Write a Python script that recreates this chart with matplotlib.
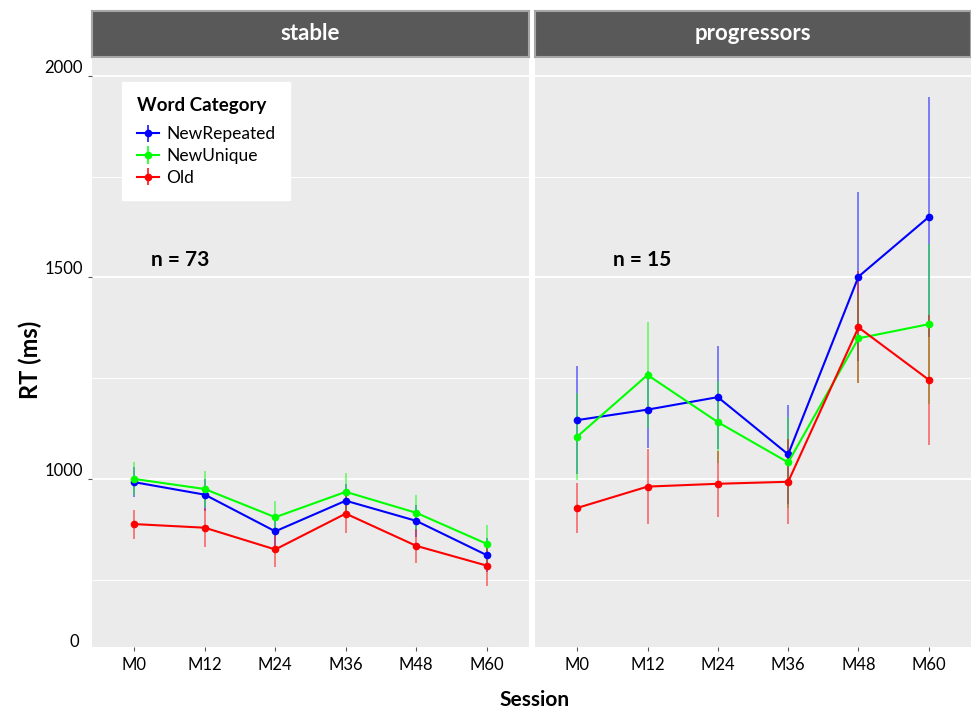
import matplotlib
matplotlib.use("Agg")
import matplotlib.pyplot as plt
import numpy as np

plt.rcParams['font.family'] = ['Lato', 'DejaVu Sans']

sessions = ["M0", "M12", "M24", "M36", "M48", "M60"]
groups = ["stable", "progressors"]
group_n = ["n = 73", "n = 15"]
categories = ["NewRepeated", "NewUnique", "Old"]
colors = {"NewRepeated": "#0000FF", "NewUnique": "#00FF00", "Old": "#FF0000"}

# stable group means / error half-widths
stable_newrepeated = [992, 961, 870, 946, 896, 811]
stable_newrepeated_err = [38, 40, 38, 42, 40, 42]
stable_newunique = [1000, 975, 905, 968, 916, 839]
stable_newunique_err = [41, 45, 40, 47, 43, 46]
stable_old = [888, 879, 825, 914, 834, 785]
stable_old_err = [36, 49, 43, 49, 42, 50]

# progressors group means / error half-widths
prog_newrepeated = [1146, 1172, 1203, 1061, 1502, 1650]
prog_newrepeated_err = [134, 96, 128, 123, 209, 297]
prog_newunique = [1105, 1258, 1141, 1041, 1349, 1384]
prog_newunique_err = [108, 131, 102, 112, 110, 198]
prog_old = [928, 981, 988, 993, 1376, 1246]
prog_old_err = [61, 93, 82, 105, 139, 162]

data = {
    "stable": {"NewRepeated": (stable_newrepeated, stable_newrepeated_err),
               "NewUnique": (stable_newunique, stable_newunique_err),
               "Old": (stable_old, stable_old_err)},
    "progressors": {"NewRepeated": (prog_newrepeated, prog_newrepeated_err),
                    "NewUnique": (prog_newunique, prog_newunique_err),
                    "Old": (prog_old, prog_old_err)},
}

W, H = 971, 712
fig = plt.figure(figsize=(W / 100, H / 100), dpi=100)

panel_px = [(92, 529), (535, 971)]
top_px, bot_px = 57, 647
strip_top = 11
ylo, yhi = 583, 2047

x = np.arange(len(sessions))
axes = []
for gi, (g, (x0, x1)) in enumerate(zip(groups, panel_px)):
    ax = fig.add_axes([x0 / W, 1 - bot_px / H, (x1 - x0) / W, (bot_px - top_px) / H])
    ax.set_facecolor("#EBEBEB")
    for s in ax.spines.values():
        s.set_visible(False)
    ax.set_ylim(ylo, yhi)
    ax.set_xlim(-0.6, len(sessions) - 0.4)
    ax.set_yticks([1000, 1500, 2000])
    ax.set_yticks([750, 1250, 1750], minor=True)
    ax.grid(True, which="major", axis="y", color="white", lw=1.3)
    ax.grid(True, which="minor", axis="y", color="white", lw=0.7)
    ax.set_axisbelow(True)
    ax.set_xticks(x)
    ax.set_xticklabels(sessions, fontsize=12)
    ax.tick_params(axis="x", length=3, color="#555555", pad=4)
    ax.tick_params(axis="y", which="both", length=3, color="#555555")
    if gi == 0:
        ax.set_yticklabels(["1000", "1500", "2000"], fontsize=12, va="bottom")
        ax.tick_params(axis="y", which="minor", length=0)
        ax.text(-0.03, 596, "0", transform=ax.get_yaxis_transform(), ha="right",
                va="center", fontsize=12)
    else:
        ax.set_yticklabels([])
        ax.tick_params(axis="y", which="both", length=0)

    handles = []
    for zi, cat in enumerate(categories):
        m, e = data[g][cat]
        c = colors[cat]
        ax.errorbar(x, m, yerr=e, fmt="none", ecolor=c, elinewidth=1.1,
                    alpha=0.6, zorder=2 + zi)
        ax.plot(x, m, color=c, lw=1.5, marker="o", ms=4.5, zorder=5 + zi)
        h = ax.errorbar([], [], yerr=[], color=c, marker="o", ms=4.5, lw=1.5,
                        elinewidth=1.1)
        handles.append(h)
    ax.text((180 - x0) / (x1 - x0) if gi == 0 else (642 - x0) / (x1 - x0),
            1 - (260 - top_px) / (bot_px - top_px), group_n[gi],
            transform=ax.transAxes, fontsize=15, fontweight="bold",
            ha="center", va="center")

    # strip
    sax = fig.add_axes([x0 / W, 1 - top_px / H, (x1 - x0) / W, (top_px - strip_top) / H])
    sax.set_facecolor("#595959")
    sax.set_xticks([])
    sax.set_yticks([])
    for s in sax.spines.values():
        s.set_color("#A6A6A6")
        s.set_linewidth(1.5)
    sax.text(0.5, 0.5, g, color="white", fontsize=16, fontweight="bold",
             ha="center", va="center", transform=sax.transAxes)
    axes.append((ax, handles))

ax0, handles = axes[0]
leg = ax0.legend(handles, categories, title="Word Category", loc="upper left",
                 bbox_to_anchor=((122 - 92) / 437, 1 - (82 - top_px) / (bot_px - top_px)),
                 frameon=True, fancybox=False, fontsize=12.5, title_fontsize=13.5,
                 handlelength=1.3, handletextpad=0.4, labelspacing=0.33,
                 borderpad=0.85, borderaxespad=0)
leg.get_frame().set_facecolor("white")
leg.get_frame().set_edgecolor("white")
leg.get_frame().set_alpha(1.0)
leg.get_title().set_fontweight("bold")
leg._legend_box.align = "left"
leg._legend_box.sep = 9

fig.text(535 / W, 1 - 700 / H, "Session", fontsize=15, fontweight="bold",
         ha="center", va="center")
fig.text(30 / W, 1 - 360 / H, "RT (ms)", fontsize=17, fontweight="bold",
         rotation=90, ha="center", va="center")

fig.savefig("out.png", dpi=100, facecolor="white")
